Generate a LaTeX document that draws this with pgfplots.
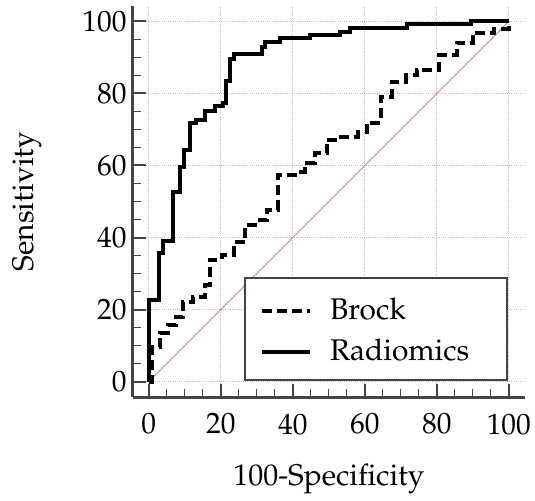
\documentclass[border=0pt]{standalone}
\usepackage[T1]{fontenc}
\usepackage{mathpazo}
\usepackage{pgfplots}
\pgfplotsset{compat=1.18}
\definecolor{spine}{HTML}{444444}
\definecolor{diag}{rgb}{0.80,0.50,0.50}
\begin{document}
\begin{tikzpicture}
\begin{axis}[name=ax, scale only axis, width=392bp, height=391bp,
 xmin=-4.4, xmax=104.5, ymin=-4.3, ymax=104.3,
 axis lines*=left,
 axis line style={line width=3bp, spine},
 xtick={0,20,...,100}, ytick={0,20,...,100},
 minor x tick num=3, minor y tick num=3,
 tick align=inside,
 major tick length=13bp, minor tick length=8bp,
 major tick style={line width=2bp, spine},
 minor tick style={line width=1.3bp, spine},
 grid=major,
 major grid style={line width=0.8bp, gray!50, dash pattern=on 1bp off 1.2bp},
 ticklabel style={font=\fontsize{29.5}{34}\selectfont},
 xticklabel style={yshift=-13bp},
 yticklabel style={xshift=-3bp},
 xlabel={100-Specificity}, ylabel={Sensitivity},
 label style={font=\fontsize{30}{36}\selectfont},
 xlabel style={at={(axis description cs:0.5,-0.2276)}, anchor=base},
 ylabel style={at={(axis description cs:-0.255,0.5)}, anchor=base},
 legend style={at={(axis description cs:0.957,0.041)}, anchor=south east,
   draw=spine, line width=2bp, fill=white, inner xsep=15bp, inner ysep=12bp,
   row sep=4bp, column sep=18bp, font=\fontsize{30}{36}\selectfont,
   cells={anchor=base west},
   nodes={inner sep=0pt, text height=30bp, text depth=7bp, text width=162bp, align=left}},
 legend image code/.code={\draw[#1] (0bp,9bp) -- (48bp,9bp);},
]
\addplot[diag, line width=0.9bp, forget plot] coordinates {(0,0) (100,100)};
\addplot[black, line width=4bp, dash pattern=on 10bp off 5bp] coordinates {
(0,0)(1,0)(1,9.7)(3.2,9.7)(3.2,13.5)(5.4,13.5)(5.4,15.7)(7.6,15.7)(7.6,18)(9.5,18)(9.5,22.2)(12.3,22.2)(12.3,23.6)(15.6,23.6)(15.6,26.9)(16.9,26.9)(16.9,33.8)(20.2,33.8)(20.2,35.2)(23.6,35.2)(23.6,38.7)(26.8,38.7)(26.8,43.5)(30.8,43.5)(30.8,44.9)(32.7,44.9)(32.7,47.7)(35.8,47.7)(35.8,57.4)(41.5,57.4)(41.5,58.3)(43.3,58.3)(43.3,60.7)(46.1,60.7)(46.1,63.4)(49.4,63.4)(49.4,67.1)(52.6,67.1)(52.6,68)(58,68)(58,69.2)(60.5,69.2)(60.5,71.8)(64.4,71.8)(64.4,79)(67.5,79)(67.5,83.3)(71.5,83.3)(71.5,85)(74.5,85)(74.5,86.6)(80.6,86.6)(80.6,90.7)(85.5,90.7)(85.5,94)(90,94)(90,96.8)(95.8,96.8)(95.8,97.9)(100,97.9)(100,100)};
\addlegendentry{Brock}
\addplot[black, line width=4bp] coordinates {
(0,0)(0,22.7)(2.8,22.7)(2.8,35.7)(4,35.7)(4,39)(6.8,39)(6.8,52.5)(8.6,52.5)(8.6,59.7)(9.8,59.7)(9.8,64.4)(11.4,64.4)(11.4,71.8)(13,71.8)(13,72.7)(15.6,72.7)(15.6,75)(18.3,75)(18.3,76.6)(20.5,76.6)(20.5,77.3)(21.4,77.3)(21.4,83.6)(22.5,83.6)(22.5,89.5)(23.6,89.5)(23.6,90.9)(31.3,90.9)(31.3,93)(32.3,93)(32.3,94.4)(36.4,94.4)(36.4,95.4)(44.7,95.4)(44.7,96.3)(53,96.3)(53,97.2)(55.8,97.2)(55.8,98.1)(71.6,98.1)(71.6,99.2)(89.6,99.2)(89.6,100)(100,100)};
\addlegendentry{Radiomics}
\end{axis}
\pgfresetboundingbox
\path[use as bounding box] ([shift={(-133bp,-104bp)}]ax.south west) rectangle ([shift={(402bp,397bp)}]ax.south west);
\end{tikzpicture}
\end{document}
